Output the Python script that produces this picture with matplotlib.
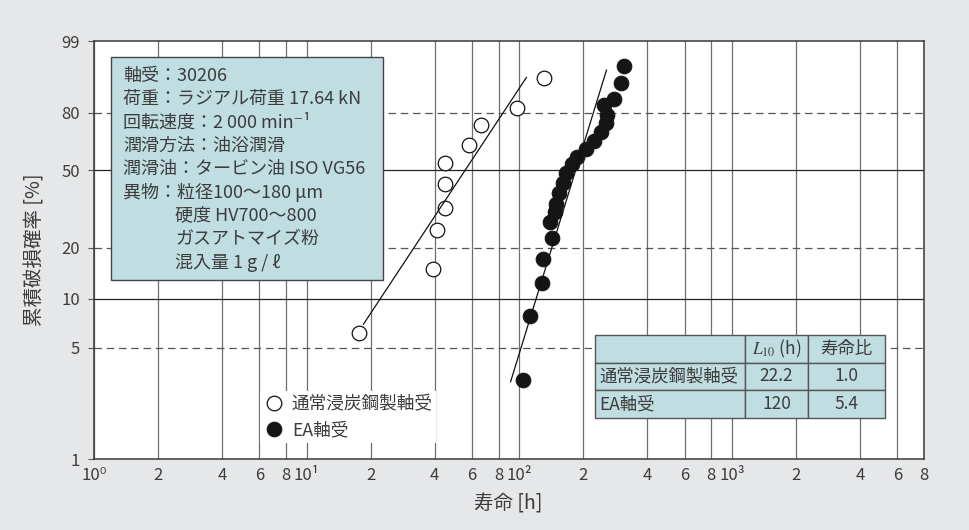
import numpy as np
import matplotlib
matplotlib.use("Agg")
import matplotlib.pyplot as plt
from matplotlib.patches import Rectangle
from matplotlib.table import Table
from matplotlib.ticker import FixedLocator, NullLocator

plt.rcParams["font.family"] = ["Noto Sans CJK JP", "DejaVu Sans"]
plt.rcParams["mathtext.fontset"] = "stix"

# ---- data -------------------------------------------------------------
# conventional carburized-steel bearings: life [h], cumulative failure [%]
std_life = [17.7, 39.2, 40.9, 44.9, 44.9, 44.9, 58.2, 66.1, 97.1, 131.0]
std_prob = [6.2, 15.0, 25.1, 33.0, 43.3, 53.9, 63.4, 74.0, 82.4, 93.1]

# EA bearings: life [h], cumulative failure [%]
ea_life = [103.6, 112.6, 127.2, 129.6, 141.8, 139.4, 147.6, 149.2, 154.1,
           159.7, 166.2, 176.4, 186.2, 205.6, 225.0, 241.9, 255.4, 257.6,
           250.6, 277.7, 300.3, 311.2]
ea_prob = [3.15, 7.85, 12.5, 17.1, 22.6, 27.6, 31.4, 34.5, 39.0, 43.6,
           48.5, 53.2, 56.9, 61.2, 65.2, 70.5, 75.0, 79.0, 83.6, 85.9,
           91.8, 95.9]

series_names = ["通常浸炭鋼製軸受", "EA軸受"]
l10_life = [22.2, 120]          # L10 life [h]
life_ratio = [1.0, 5.4]
weibull_slope = [2.05, 4.4]
fit_span = [(18.5, 108.0), (91.0, 257.0)]

x_ticks = [1, 2, 4, 6, 8, 10, 20, 40, 60, 80, 100, 200, 400, 600, 800,
           1000, 2000, 4000, 6000, 8000]
x_tick_labels = ["10⁰", "2", "4", "6", "8", "10¹", "2", "4", "6", "8",
                 "10²", "2", "4", "6", "8", "10³", "2", "4", "6", "8"]
y_ticks = [1, 5, 10, 20, 50, 80, 99]
y_solid = [10, 50]
y_dashed = [5, 20, 80]

conditions = [
    ("軸受：30206", 0),
    ("荷重：ラジアル荷重 17.64 kN", 0),
    ("回転速度：2 000 min⁻¹", 0),
    ("潤滑方法：油浴潤滑", 0),
    ("潤滑油：タービン油 ISO VG56", 0),
    ("異物：粒径100～180 μm", 0),
    ("硬度 HV700～800", 1),
    ("ガスアトマイズ粉", 1),
    ("混入量 1 g / ℓ", 1),
]

# ---- styling ------------------------------------------------------------
BG = "#e6e7e9"
BOX = "#c0dee2"
TXT = "#3c3c3c"
GRID = "#6e6e6e"


def weibull_fwd(p):
    p = np.clip(np.asarray(p, dtype=float), 1e-9, 100 - 1e-9)
    return np.log(-np.log(1.0 - p / 100.0))


def weibull_inv(y):
    y = np.clip(np.asarray(y, dtype=float), -50, 5)
    return 100.0 * (1.0 - np.exp(-np.exp(y)))


fig = plt.figure(figsize=(9.7, 5.3), dpi=100, facecolor=BG)
ax = fig.add_axes([94 / 970, 71 / 530, 830 / 970, 418 / 530])
ax.set_facecolor("white")
ax.set_xscale("log")
ax.set_yscale("function", functions=(weibull_fwd, weibull_inv))
ax.set_xlim(1, 8000)
ax.set_ylim(1, 99)

ax.xaxis.set_major_locator(FixedLocator(x_ticks))
ax.xaxis.set_minor_locator(NullLocator())
ax.set_xticklabels(x_tick_labels)
ax.yaxis.set_major_locator(FixedLocator(y_ticks))
ax.yaxis.set_minor_locator(NullLocator())
ax.set_yticklabels([str(v) for v in y_ticks])
ax.tick_params(axis="x", length=0, pad=6, labelsize=12, labelcolor=TXT)
ax.tick_params(axis="y", length=4, width=0.8, color="#555555", pad=6,
               labelsize=12, labelcolor=TXT)

for s in ax.spines.values():
    s.set_color("#3a3a3a")
    s.set_linewidth(1.1)

# grid of the probability paper
ax.grid(axis="x", color=GRID, linewidth=0.9, zorder=0)
ax.set_axisbelow(True)
for v in y_solid:
    ax.axhline(v, color="#222222", linewidth=0.9, zorder=1)
for v in y_dashed:
    ax.axhline(v, color="#555555", linewidth=0.9, linestyle=(0, (6.0, 3.8)),
               zorder=1)

# measured lives
ax.plot(std_life, std_prob, "o", ms=10.5, mfc="white", mec="#111111", mew=0.9,
        zorder=3, label=series_names[0])
ax.plot(ea_life, ea_prob, "o", ms=10.5, mfc="#151515", mec="#151515", mew=0.8,
        zorder=3, label=series_names[1])

# Weibull fit lines through the L10 lives
for l10, b, (t0, t1) in zip(l10_life, weibull_slope, fit_span):
    t = np.geomspace(t0, t1, 60)
    f = 100.0 * (1.0 - np.exp(-(-np.log(0.9)) * (t / l10) ** b))
    ax.plot(t, f, color="#111111", linewidth=0.9, zorder=4)

# test-condition box
ax.add_patch(Rectangle((0.0201, 0.4282), 0.3277, 0.5328, transform=ax.transAxes,
                       facecolor=BOX, edgecolor="#444444", linewidth=1.0,
                       zorder=5))
for i, (line, indent) in enumerate(conditions):
    ax.text(0.0353 if indent == 0 else 0.0976, 0.9163 - i * 0.0557, line,
            transform=ax.transAxes, ha="left", va="center", fontsize=13,
            color=TXT, zorder=6)

# L10 table
tb = Table(ax, bbox=[0.6036, 0.0981, 0.3494, 0.1986])
col_w = [150 / 290, 63 / 290, 77 / 290]
rows = [["", r"$L_{10}$ (h)", "寿命比"],
        [series_names[0], f"{l10_life[0]:.1f}", f"{life_ratio[0]:.1f}"],
        [series_names[1], f"{l10_life[1]:d}", f"{life_ratio[1]:.1f}"]]
for r, row in enumerate(rows):
    for c, txt in enumerate(row):
        cell = tb.add_cell(r, c, width=col_w[c], height=1 / 3, text=txt,
                           loc="left" if c == 0 else "center",
                           facecolor=BOX, edgecolor="#555555")
        cell.set_linewidth(1.0)
        cell.PAD = 0.03
        cell.get_text().set_color(TXT)
tb.auto_set_font_size(False)
tb.set_fontsize(12.5)
tb.set_zorder(6)
ax.add_table(tb)

# legend
leg = ax.legend(loc="upper left", bbox_to_anchor=(0.2, 0.162), fontsize=12.7,
                frameon=True, fancybox=False, framealpha=1, borderpad=0.2,
                handletextpad=0.4, labelspacing=0.5, handlelength=1.2,
                borderaxespad=0)
leg.get_frame().set_edgecolor("none")
leg.get_frame().set_facecolor("white")
leg.set_zorder(6)
for t in leg.get_texts():
    t.set_color(TXT)

ax.set_xlabel("寿命 [h]", fontsize=14, color=TXT)
ax.xaxis.set_label_coords((508 - 94) / 830, -0.082)
ax.set_ylabel("累積破損確率 [%]", fontsize=14, color=TXT)
ax.yaxis.set_label_coords(-0.058, 0.5)

fig.savefig("out.png", dpi=100, facecolor=BG)
